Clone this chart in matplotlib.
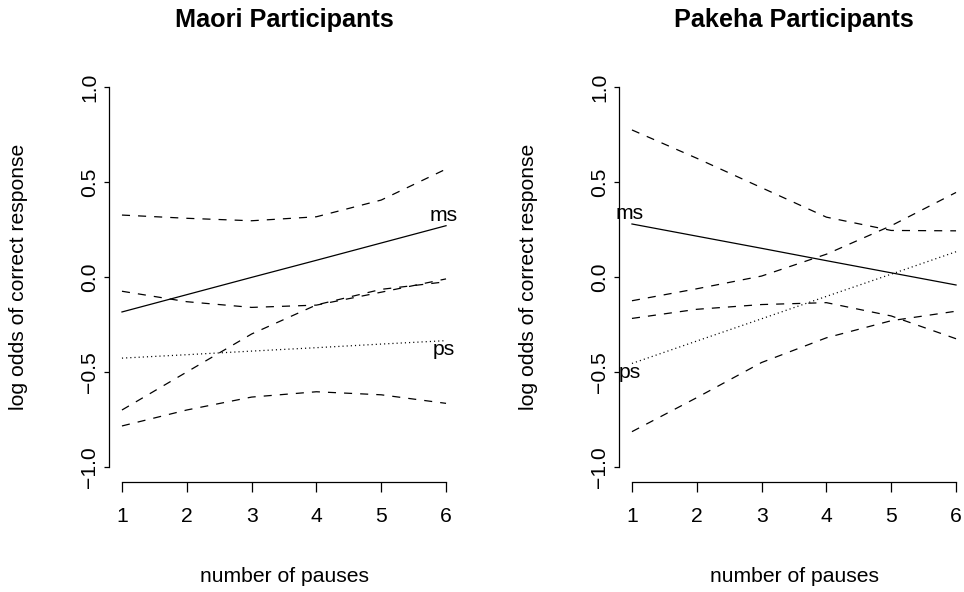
import matplotlib
matplotlib.use("Agg")
import matplotlib.pyplot as plt

plt.rcParams["font.family"] = ["Liberation Sans", "DejaVu Sans"]
plt.rcParams["axes.unicode_minus"] = True
plt.rcParams["lines.scale_dashes"] = False

# number of pauses
pauses = [1, 2, 3, 4, 5, 6]

# Maori participants: estimates and confidence bounds (log odds)
maori_ms = [-0.184, -0.093, -0.002, 0.088, 0.179, 0.270]
maori_ms_hi = [0.326, 0.309, 0.296, 0.317, 0.405, 0.568]
maori_ms_lo = [-0.700, -0.500, -0.300, -0.147, -0.065, -0.025]
maori_ps = [-0.427, -0.409, -0.390, -0.372, -0.353, -0.335]
maori_ps_hi = [-0.075, -0.130, -0.160, -0.148, -0.080, -0.010]
maori_ps_lo = [-0.784, -0.700, -0.632, -0.604, -0.620, -0.665]

# Pakeha participants
pakeha_ms = [0.279, 0.215, 0.151, 0.086, 0.022, -0.042]
pakeha_ms_hi = [0.774, 0.625, 0.470, 0.315, 0.245, 0.243]
pakeha_ms_lo = [-0.218, -0.170, -0.145, -0.135, -0.205, -0.325]
pakeha_ps = [-0.455, -0.337, -0.220, -0.102, 0.015, 0.133]
pakeha_ps_hi = [-0.125, -0.062, 0.005, 0.120, 0.270, 0.445]
pakeha_ps_lo = [-0.814, -0.635, -0.450, -0.320, -0.230, -0.180]

yticks = [-1.0, -0.5, 0.0, 0.5, 1.0]
xticks = [1, 2, 3, 4, 5, 6]

W, H = 964, 592
fig = plt.figure(figsize=(W / 100, H / 100), dpi=100)

DASH = (0, (5.8, 5.8))
DOT = (0, (0.8, 2.2))
LW = 0.9
FS = 15.2


def panel(left_px, title, ms, ms_hi, ms_lo, ps, ps_hi, ps_lo, label_at_end):
    ax = fig.add_axes([left_px / W, (H - 482.2) / H, 350 / W, 410.4 / H])
    ax.set_xlim(0.8, 6.2)
    ax.set_ylim(-1.08, 1.08)
    for s in ("top", "right"):
        ax.spines[s].set_visible(False)
    ax.spines["left"].set_bounds(-1, 1)
    ax.spines["bottom"].set_bounds(1, 6)
    for s in ("left", "bottom"):
        ax.spines[s].set_linewidth(0.9)
    ax.set_xticks(xticks)
    ax.set_xticklabels([str(v) for v in xticks])
    ax.set_yticks(yticks)
    ax.set_yticklabels([f"{v:.1f}".replace("-", "\u2212") for v in yticks])
    ax.tick_params(axis="x", length=7.2, width=0.9, pad=10.5, labelsize=FS)
    ax.tick_params(axis="y", length=3.6, width=0.9, pad=3.3, labelsize=FS)
    for t in ax.get_yticklabels():
        t.set_rotation(90)
        t.set_va("center")

    ax.plot(pauses, ms, color="black", lw=LW)
    ax.plot(pauses, ms_hi, color="black", lw=LW, linestyle=DASH)
    ax.plot(pauses, ms_lo, color="black", lw=LW, linestyle=DASH)
    ax.plot(pauses, ps, color="black", lw=LW, linestyle=DOT)
    ax.plot(pauses, ps_hi, color="black", lw=LW, linestyle=DASH)
    ax.plot(pauses, ps_lo, color="black", lw=LW, linestyle=DASH)

    i = -1 if label_at_end else 0
    ax.annotate("ms", (pauses[i], ms[i]), xytext=(-1.5, 3.6), textcoords="offset points",
                ha="center", va="baseline", fontsize=FS)
    ax.annotate("ps", (pauses[i], ps[i]), xytext=(-1.5, -10.5), textcoords="offset points",
                ha="center", va="baseline", fontsize=FS)

    cx = (left_px + 175) / W
    fig.text(cx, 1 - 26.7 / H, title, ha="center", va="baseline",
             fontsize=18.2, fontweight="bold")
    fig.text(cx, 1 - 581.7 / H, "number of pauses", ha="center", va="baseline", fontsize=FS)
    fig.text((left_px - 90) / W, 1 - 277 / H, "log odds of correct response",
             ha="center", va="center", rotation=90, fontsize=FS)
    return ax


panel(109, "Maori Participants", maori_ms, maori_ms_hi, maori_ms_lo,
      maori_ps, maori_ps_hi, maori_ps_lo, True)
panel(619, "Pakeha Participants", pakeha_ms, pakeha_ms_hi, pakeha_ms_lo,
      pakeha_ps, pakeha_ps_hi, pakeha_ps_lo, False)

fig.savefig("out.png", dpi=100, facecolor="white")
